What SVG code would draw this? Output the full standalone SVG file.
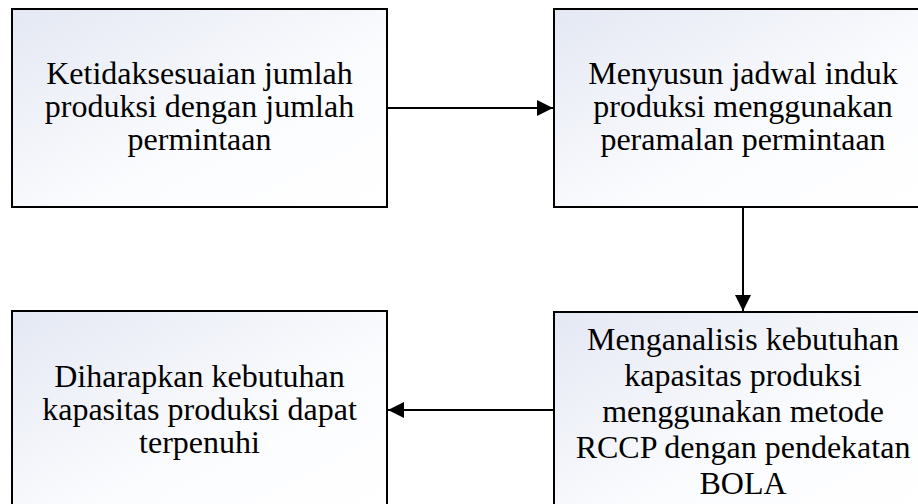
<svg xmlns="http://www.w3.org/2000/svg" width="918" height="504" viewBox="0 0 918 504">
  <defs>
    <linearGradient id="g" x1="0" y1="0" x2="1" y2="1">
      <stop offset="0" stop-color="#e4e8f3"/>
      <stop offset="0.6" stop-color="#fbfcfe"/>
      <stop offset="1" stop-color="#ffffff"/>
    </linearGradient>
    <marker id="ah" viewBox="0 0 10 10" refX="10" refY="5" markerWidth="8" markerHeight="8" markerUnits="strokeWidth" orient="auto">
      <path d="M0,0 L10,5 L0,10 Z" fill="#000"/>
    </marker>
  </defs>
  <style>
    .box { fill: url(#g); stroke: #000; stroke-width: 2; }
    .t { font-family: "Liberation Serif", "Times New Roman", serif; font-size: 32px; fill: #000; text-anchor: middle; }
    .c { stroke: #000; stroke-width: 2; fill: none; marker-end: url(#ah); }
  </style>
  <rect width="918" height="504" fill="#fff"/>
  <g id="n1">
    <rect class="box" x="12" y="9" width="375" height="198"/>
    <text class="t" x="199.5" y="84">Ketidaksesuaian jumlah</text>
    <text class="t" x="199.5" y="117">produksi dengan jumlah</text>
    <text class="t" x="199.5" y="150">permintaan</text>
  </g>
  <g id="n2">
    <rect class="box" x="554" y="9" width="377" height="198"/>
    <text class="t" x="743" y="84">Menyusun jadwal induk</text>
    <text class="t" x="743" y="117">produksi menggunakan</text>
    <text class="t" x="743" y="150">peramalan permintaan</text>
  </g>
  <g id="n3">
    <rect class="box" x="12" y="311" width="375" height="200"/>
    <text class="t" x="199.5" y="387">Diharapkan kebutuhan</text>
    <text class="t" x="199.5" y="420">kapasitas produksi dapat</text>
    <text class="t" x="199.5" y="453">terpenuhi</text>
  </g>
  <g id="n4">
    <rect class="box" x="554" y="312" width="377" height="200"/>
    <text class="t" x="743" y="350">Menganalisis kebutuhan</text>
    <text class="t" x="743" y="386">kapasitas produksi</text>
    <text class="t" x="743" y="422">menggunakan metode</text>
    <text class="t" x="743" y="458">RCCP dengan pendekatan</text>
    <text class="t" x="743" y="494">BOLA</text>
  </g>
  <g id="connectors">
    <line class="c" x1="388" y1="108" x2="553" y2="108"/>
    <line class="c" x1="743" y1="208" x2="743" y2="311"/>
    <line class="c" x1="553" y1="410" x2="388" y2="410"/>
  </g>
</svg>
